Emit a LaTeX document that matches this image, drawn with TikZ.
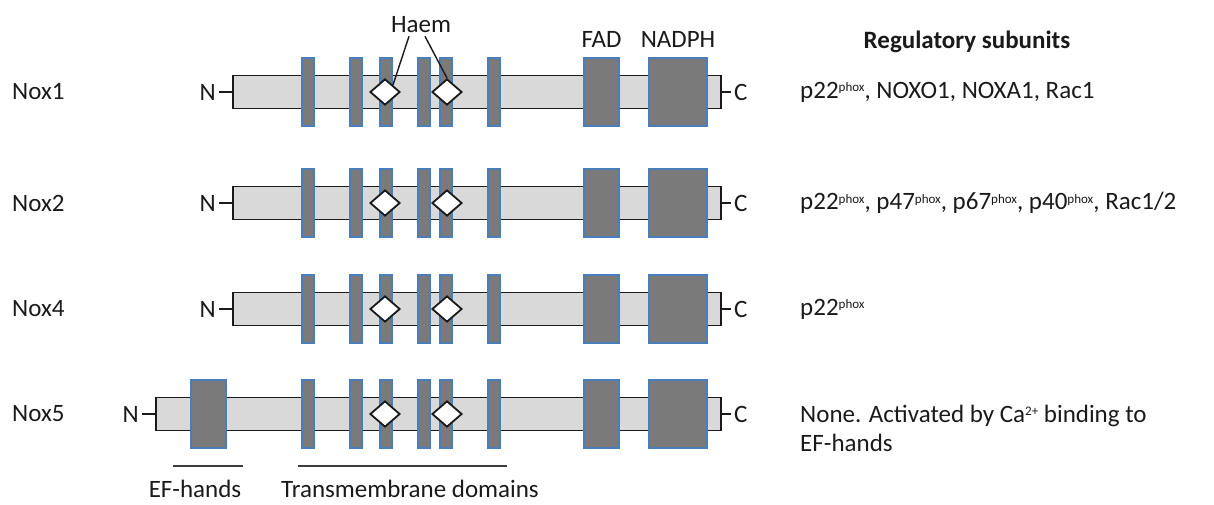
\documentclass[tikz,border=0pt]{standalone}
\usepackage{fontspec}
\setmainfont{Carlito}
\usetikzlibrary{shapes}
\usetikzlibrary{positioning}

\definecolor{barfill}{HTML}{D9D9D9}
\definecolor{domgrey}{HTML}{7A7A7A}
\definecolor{tmblue}{HTML}{4A7EBB}
\definecolor{txt}{HTML}{1A1A1A}

% small raised text for the subunit names
\newcommand{\supsm}[1]{\raisebox{6.5pt}{\fontsize{13}{13}\selectfont #1}}

\begin{document}
\begin{tikzpicture}[x=1pt,y=-1pt,font=\fontsize{25}{29}\selectfont,
	protein/.style={draw=txt,line width=1.8pt,fill=barfill,minimum height=33pt,inner sep=0pt,anchor=west},
	tmbox/.style={draw=tmblue,line width=1.8pt,fill=domgrey,minimum width=12pt,minimum height=68pt,inner sep=0pt},
	dombox/.style={draw=tmblue,line width=1.8pt,fill=domgrey,minimum height=68pt,inner sep=0pt},
	haem/.style={diamond,draw=txt,fill=white,line width=1.8pt,minimum width=30pt,minimum height=26pt,inner sep=0pt},
	term/.style={text=txt,inner sep=3pt},
	tickline/.style={draw=txt,line width=1.8pt},
	spanline/.style={draw=txt!85,line width=2pt}
	]
	\useasboundingbox (0,0) rectangle (1214,504);
	% one row per isoform: name / row / start of the protein bar
	\foreach \k/\y/\xs in {1/92/232,2/203/232,4/309/232,5/414/155}{
		\node[protein,minimum width={(720-\xs)*1pt}] (bar\k) at (\xs,\y) {};
		\foreach \t/\tx in {a/308,b/356,c/386,d/424,e/446,f/494}
			\node[tmbox] (tm\k\t) at (\tx,\y) {};
		\node[dombox,minimum width=35pt] (fad\k) at (601.5,\y) {};
		\node[dombox,minimum width=58pt] (nadph\k) at (678,\y) {};
		\node[haem] (hA\k) at (385,\y) {};
		\node[haem] (hB\k) at (447,\y) {};
		\node[term,anchor=east] (n\k) at (\xs-13,\y) {N};
		\draw[tickline] (n\k) -- (bar\k);
		\node[term,anchor=west] (c\k) at (731,\y) {C};
		\draw[tickline] (bar\k) -- (c\k);
		\node[term,anchor=west] (nox\k) at (9,\y) {Nox\k};
	}
	% EF-hand domain of Nox5
	\node[dombox,minimum width=35pt] (ef) at (208.5,414) {};

	\node[term] (haem) at (421,25) {Haem};
	\draw[tickline,line width=1.4pt] ([xshift=-12pt]haem.south) -- (hA1.north east);
	\draw[tickline,line width=1.4pt] ([xshift=4pt]haem.south) -- (hB1.north);
	\node[term,above=6pt of fad1] (fadlab) {FAD};
	\node[term,above=6pt of nadph1] (nadphlab) {NADPH};

	% regulatory subunits column
	\node[term] (regs) at (967,42) {\textbf{Regulatory subunits}};
	\node[term,anchor=west] (sub1) at (797,92) {p22\supsm{phox}, NOXO1, NOXA1, Rac1};
	\node[term,anchor=west] (sub2) at (797,203) {p22\supsm{phox}, p47\supsm{phox}, p67\supsm{phox}, p40\supsm{phox}, Rac1/2};
	\node[term,anchor=west] (sub4) at (797,309) {p22\supsm{phox}};
	\node[term,anchor=west,align=left] (sub5) at (797,428) {None. Activated by Ca\supsm{2+} binding to\\EF-hands};

	% spans under Nox5
	\draw[spanline] (173,466) -- (243,466);
	\draw[spanline] (298,466) -- (507,466);
	\node[term] (eflab) at (195,489) {EF-hands};
	\node[term] (tmlab) at (410,489) {Transmembrane domains};
\end{tikzpicture}
\end{document}
